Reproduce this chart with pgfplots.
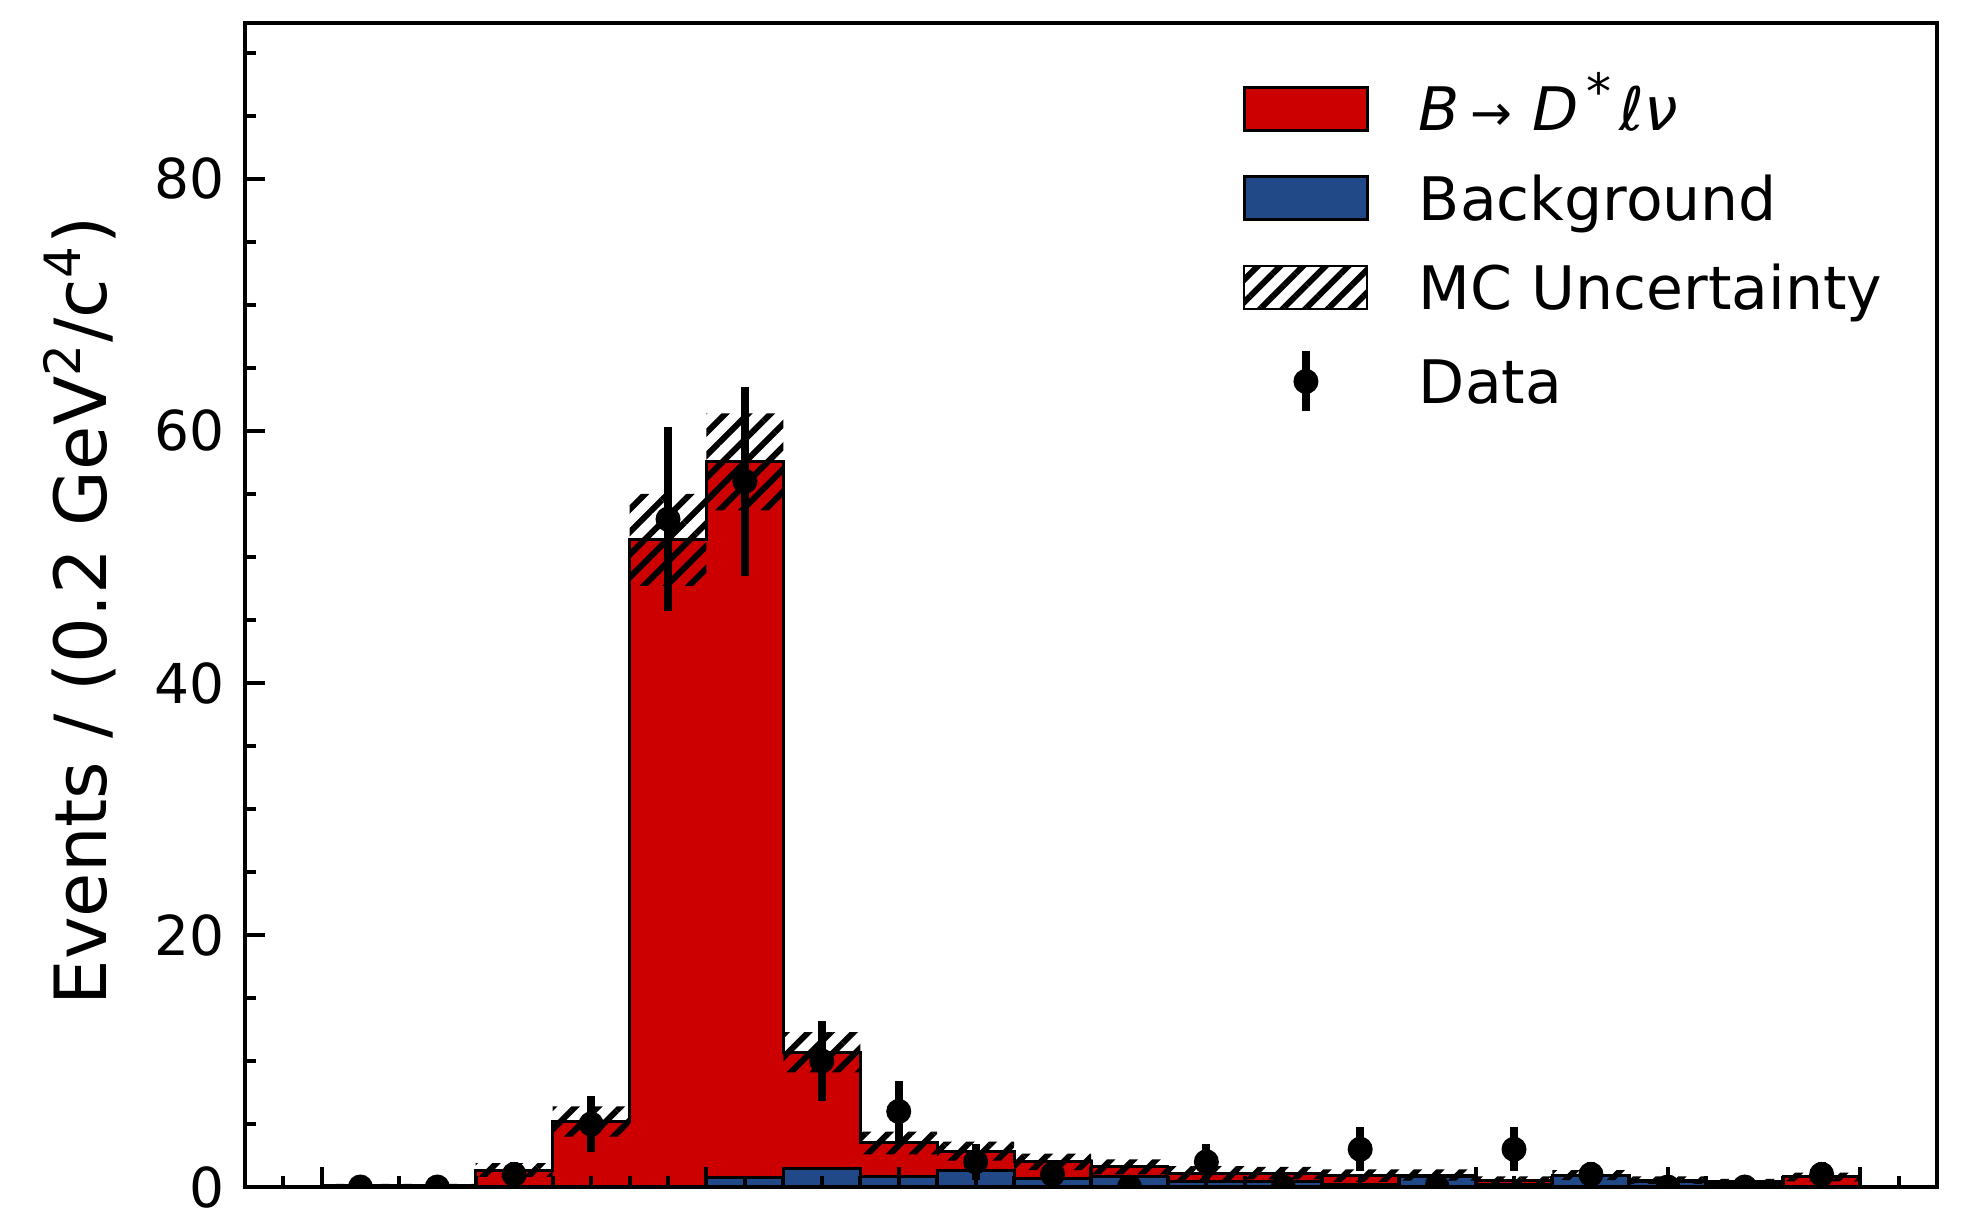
\documentclass[border=0pt]{standalone}
\usepackage{fontspec}
\setmainfont{DejaVu Sans}
\usepackage{pgfplots}
\usepackage{pgfplotstable}
\pgfplotsset{compat=1.18}
\usetikzlibrary{patterns.meta}
\definecolor{sigred}{RGB}{204,0,0}
\definecolor{bkgblue}{RGB}{33,73,135}
\tikzset{mchatch/.style={pattern={Lines[angle=45,distance=3.2pt,line width=1.2pt]}, pattern color=black}}

% MC stack: left bin edge, background, total (signal+background)
\pgfplotstableread{
xl blue total
-1.0 0.05 0.15
-0.8 0.05 0.15
-0.6 0.0 1.35
-0.4 0.0 5.2
-0.2 0.0 51.4
0.0 0.75 57.6
0.2 1.5 10.7
0.4 0.8 3.5
0.6 1.3 2.85
0.8 0.7 2.0
1.0 0.8 1.6
1.2 0.4 1.1
1.4 0.4 1.1
1.6 0.2 0.9
1.8 0.8 0.95
2.0 0.2 0.55
2.2 0.95 0.95
2.4 0.4 0.55
2.6 0.3 0.4
2.8 0.05 0.8
3.0 0.05 0.8
}\mc

% MC uncertainty band outline: upper edge (left to right), lower edge (right to left)
\pgfplotstableread{
x y
-1.0 0.25
-0.6 0.25
-0.6 1.9
-0.4 1.9
-0.4 6.4
-0.2 6.4
-0.2 55.0
0.0 55.0
0.0 61.4
0.2 61.4
0.2 12.3
0.4 12.3
0.4 4.4
0.6 4.4
0.6 3.6
0.8 3.6
0.8 2.65
1.0 2.65
1.0 2.2
1.2 2.2
1.2 1.65
1.4 1.65
1.4 1.6
1.6 1.6
1.6 1.4
2.0 1.4
2.0 0.85
2.2 0.85
2.2 1.35
2.4 1.35
2.4 0.85
2.6 0.85
2.6 0.65
2.8 0.65
2.8 1.15
3.0 1.15
3.0 0.45
2.8 0.45
2.8 0.15
2.6 0.15
2.6 0.25
2.4 0.25
2.4 0.55
2.2 0.55
2.2 0.25
2.0 0.25
2.0 0.5
1.8 0.5
1.8 0.4
1.6 0.4
1.6 0.6
1.4 0.6
1.4 0.55
1.2 0.55
1.2 1.0
1.0 1.0
1.0 1.35
0.8 1.35
0.8 2.1
0.6 2.1
0.6 2.6
0.4 2.6
0.4 9.1
0.2 9.1
0.2 53.7
0.0 53.7
0.0 47.7
-0.2 47.7
-0.2 4.0
-0.4 4.0
-0.4 0.8
-0.6 0.8
-0.6 0.05
-1.0 0.05
}\band

% Data: bin centre, events, error
\pgfplotstableread{
x y e
-0.9 0 0
-0.7 0 0
-0.5 1 1
-0.3 5 2.236
-0.1 53 7.280
0.1 56 7.483
0.3 10 3.162
0.5 6 2.449
0.7 2 1.414
0.9 1 1
1.1 0 0
1.3 2 1.414
1.5 0 0
1.7 3 1.732
1.9 0 0
2.1 3 1.732
2.3 1 1
2.5 0 0
2.7 0 0
2.9 1 1
}\data

\begin{document}
\begin{tikzpicture}
\begin{axis}[
  at={(0,0)}, anchor=south west,
  scale only axis,
  width=338.4pt, height=232.86pt,
  xmin=-1.2, xmax=3.2,
  ymin=0, ymax=92.4,
  xtick={-1,-0.5,...,3},
  minor xtick={-1.1,-1.0,...,3.15},
  xticklabels={},
  ytick={0,20,40,60,80},
  minor ytick={0,5,...,90},
  xtick pos=left, ytick pos=left,
  tick align=inside,
  major tick length=4pt,
  minor tick length=2.2pt,
  every tick/.style={black, line width=0.8pt},
  axis line style={line width=0.8pt},
  axis on top,
  clip marker paths=true,
  /pgf/number format/assume math mode=true,
  yticklabel style={font=\fontsize{11}{13}\selectfont, xshift=-0.6pt},
  every axis y label/.style={at={(axis description cs:-0.0816,0.495)}, rotate=90, anchor=base, font=\fontsize{14.4}{17}\selectfont},
  ylabel={Events / (0.2 GeV\textsuperscript{2}/c\textsuperscript{4})},
  legend style={at={(0.5898,0.9517)}, anchor=north west, draw=none, fill=none,
    inner sep=0pt, outer sep=0pt, row sep=5.9pt, column sep=10pt,
    font=\fontsize{12}{14}\selectfont,
    nodes={inner sep=0pt, outer sep=0pt, text height=10.4pt, text depth=1.6pt},
    cells={anchor=west}},
]
% total stack (signal on top of background)
\addplot[const plot mark left, fill=sigred, draw=black, line width=0.6pt, forget plot]
  table[x=xl, y=total] {\mc} \closedcycle;
% background
\addplot[const plot mark left, fill=bkgblue, draw=black, line width=0.6pt, forget plot]
  table[x=xl, y=blue] {\mc} \closedcycle;
% MC uncertainty band
\addplot[draw=none, mchatch, forget plot] table[x=x, y=y] {\band};
% data
\addplot[only marks, mark=*, mark size=2.3pt, black, forget plot,
  error bars/.cd, y dir=both, y explicit, error mark=none,
  error bar style={line width=1.6pt, black}]
  table[x=x, y=y, y error=e] {\data};

\addlegendimage{legend image code/.code={\draw[fill=sigred,draw=black,line width=0.6pt] (0pt,-4.3pt) rectangle (24.6pt,4.3pt);}}
\addlegendentry{\textit{B}\,{\fontsize{10}{12}\selectfont →}\,\,\textit{D}\raisebox{4.2pt}{\fontsize{10}{12}\selectfont\,*\,}\textit{ℓν}}
\addlegendimage{legend image code/.code={\draw[fill=bkgblue,draw=black,line width=0.6pt] (0pt,-4.3pt) rectangle (24.6pt,4.3pt);}}
\addlegendentry{Background}
\addlegendimage{legend image code/.code={\fill[mchatch] (0pt,-4.3pt) rectangle (24.6pt,4.3pt);}}
\addlegendentry{MC Uncertainty}
\addlegendimage{legend image code/.code={\path[draw=none,fill=none] (0pt,-6pt) rectangle (24.6pt,6pt); \draw[black,line width=1.6pt] (12.3pt,-6pt)--(12.3pt,6pt); \fill[black] (12.3pt,0pt) circle (2.3pt);}}
\addlegendentry{Data}
\end{axis}
\pgfresetboundingbox
\path[use as bounding box] (-49pt,-4pt) rectangle (343.6pt,237.4pt);
\end{tikzpicture}
\end{document}
